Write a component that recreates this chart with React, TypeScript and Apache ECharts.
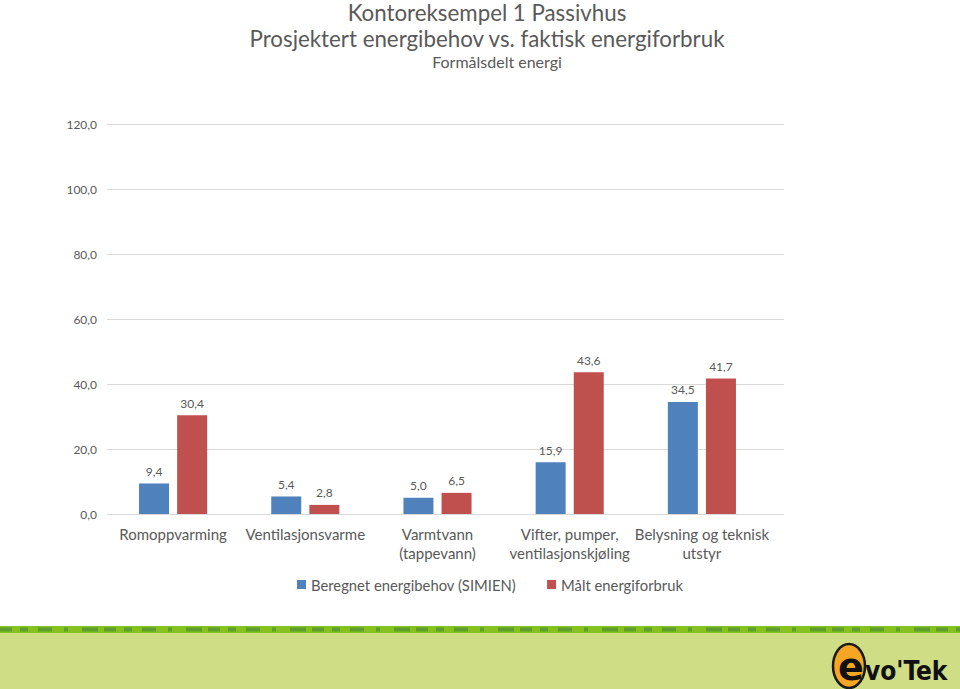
import React, { useEffect, useRef } from "react";
import * as echarts from "echarts";

const categories = [
  "Romoppvarming",
  "Ventilasjonsvarme",
  "Varmtvann\n(tappevann)",
  "Vifter, pumper,\nventilasjonskjøling",
  "Belysning og teknisk\nutstyr",
];
const beregnet = [9.4, 5.4, 5.0, 15.9, 34.5];
const maalt = [30.4, 2.8, 6.5, 43.6, 41.7];
const seriesNames = ["Beregnet energibehov (SIMIEN)", "Målt energiforbruk"];
const titleLines = [
  "Kontoreksempel 1 Passivhus",
  "Prosjektert energibehov vs. faktisk energiforbruk",
  "Formålsdelt energi",
];

const FONT = "Lato, 'Liberation Sans', sans-serif";
const GRAY = "#595959";
const fmt = (v: number) => v.toFixed(1).replace(".", ",");

export default function App() {
  const ref = useRef<HTMLDivElement>(null);
  useEffect(() => {
    if (!ref.current) return;
    const chart = echarts.init(ref.current, undefined, { renderer: "svg" });
    chart.setOption({
      animation: false,
      backgroundColor: "#ffffff",
      textStyle: { fontFamily: FONT },
      title: [
        {
          text: titleLines[0],
          left: 487,
          top: 1,
          padding: 0,
          textAlign: "center",
          textStyle: { fontFamily: FONT, fontSize: 22.3, lineHeight: 22, fontWeight: "normal", color: GRAY },
        },
        {
          text: titleLines[1],
          left: 487,
          top: 27,
          padding: 0,
          textAlign: "center",
          textStyle: { fontFamily: FONT, fontSize: 22.3, lineHeight: 22, fontWeight: "normal", color: GRAY },
        },
        {
          text: titleLines[2],
          left: 497,
          top: 53,
          padding: 0,
          textAlign: "center",
          textStyle: { fontFamily: FONT, fontSize: 16, fontWeight: "normal", color: GRAY },
        },
      ],
      legend: {
        left: 297,
        top: 577,
        padding: 0,
        itemWidth: 9,
        itemHeight: 9,
        itemGap: 31,
        icon: "rect",
        textStyle: { fontFamily: FONT, fontSize: 14.8, color: GRAY },
        data: seriesNames,
      },
      grid: [
        { left: 107, width: 677, top: 124, height: 390 },
        { left: 107, width: 661, top: 124, height: 390 },
      ],
      xAxis: [
        { type: "category", gridIndex: 0, data: categories, show: false },
        {
          type: "category",
          gridIndex: 1,
          data: categories,
          axisLine: { show: false },
          axisTick: { show: false },
          axisLabel: {
            fontFamily: FONT,
            fontSize: 15,
            color: GRAY,
            lineHeight: 19,
            margin: 10,
            interval: 0,
          },
        },
      ],
      yAxis: [
        {
          type: "value",
          gridIndex: 0,
          min: 0,
          max: 120,
          interval: 20,
          axisLine: { show: false },
          axisTick: { show: false },
          splitLine: { lineStyle: { color: "#D9D9D9", width: 1 } },
          axisLabel: {
            fontFamily: FONT,
            fontSize: 12,
            color: GRAY,
            margin: 10,
            formatter: (v: number) => fmt(v),
          },
        },
        {
          type: "value",
          gridIndex: 1,
          min: 0,
          max: 120,
          interval: 20,
          show: false,
        },
      ],
      series: [
        {
          name: seriesNames[0],
          type: "bar",
          xAxisIndex: 1,
          yAxisIndex: 1,
          data: beregnet,
          barWidth: 30,
          barGap: "27%",
          itemStyle: { color: "#4F81BD" },
          label: {
            show: true,
            position: "top",
            distance: 6,
            fontFamily: FONT,
            fontSize: 12,
            color: GRAY,
            formatter: (p: any) => fmt(p.value),
          },
        },
        {
          name: seriesNames[1],
          type: "bar",
          xAxisIndex: 1,
          yAxisIndex: 1,
          data: maalt,
          barWidth: 30,
          barGap: "27%",
          itemStyle: { color: "#C0504D" },
          label: {
            show: true,
            position: "top",
            distance: 6,
            fontFamily: FONT,
            fontSize: 12,
            color: GRAY,
            formatter: (p: any) => fmt(p.value),
          },
        },
      ],
      graphic: [
        {
          type: "rect",
          shape: { x: 0, y: 626, width: 960, height: 63 },
          style: { fill: "#CFDD84" },
          silent: true,
        },
        {
          type: "rect",
          shape: { x: 0, y: 626, width: 960, height: 7 },
          style: { fill: "#86C21F" },
          silent: true,
        },
        {
          type: "line",
          shape: { x1: 0, y1: 629.5, x2: 960, y2: 629.5 },
          style: {
            stroke: "#5E9E2C",
            lineWidth: 4,
            lineDash: [12, 8, 8, 10, 14, 12, 4, 14, 16, 6],
          },
          silent: true,
        },
        {
          type: "ellipse",
          shape: { cx: 849, cy: 666, rx: 16, ry: 22 },
          style: { fill: "#F5A623", stroke: "#1a1a1a", lineWidth: 2.5 },
          silent: true,
        },
        {
          type: "text",
          x: 851,
          y: 667,
          style: {
            text: "e",
            fill: "#111111",
            font: "bold 38px 'DejaVu Sans', sans-serif",
            align: "center",
            verticalAlign: "middle",
          },
          silent: true,
        },
        {
          type: "text",
          x: 865,
          y: 671,
          style: {
            text: "vo'Tek",
            fill: "#111111",
            font: "bold 26px 'DejaVu Sans Condensed', 'DejaVu Sans', sans-serif",
            align: "left",
            verticalAlign: "middle",
          },
          silent: true,
        },
      ],
    });
    return () => chart.dispose();
  }, []);
  return (
    <div
      ref={ref}
      style={{ position: "fixed", left: 0, top: 0, width: 960, height: 689 }}
    />
  );
}
